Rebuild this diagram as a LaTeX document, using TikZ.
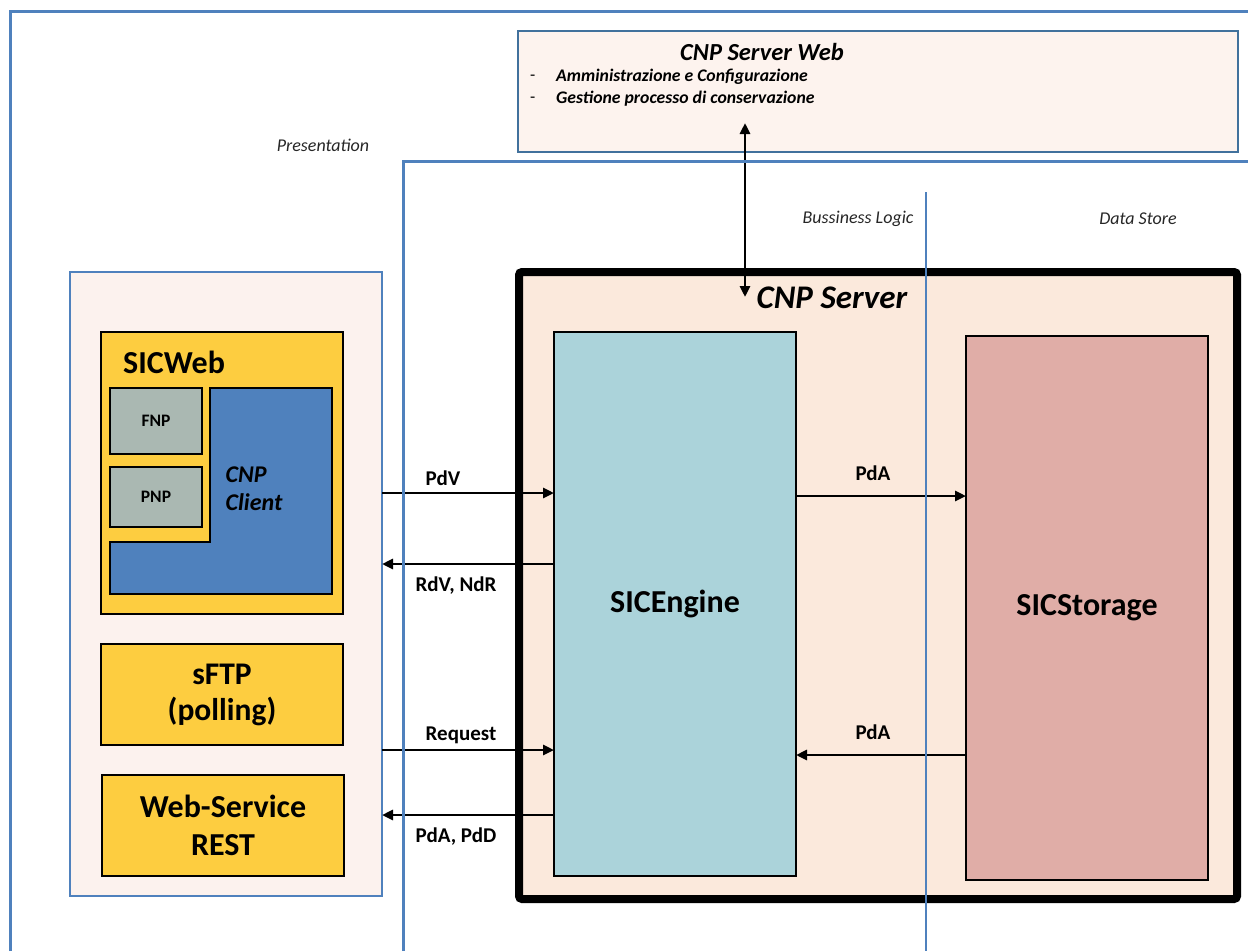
\documentclass[tikz,border=0pt]{standalone}
\usepackage{fontspec}
\setmainfont{Carlito}
\usetikzlibrary{arrows.meta}
\definecolor{frameblue}{HTML}{4F81BD}
\definecolor{topfill}{HTML}{FDF3EE}
\definecolor{topborder}{HTML}{41719C}
\definecolor{presfill}{HTML}{FCF2EE}
\definecolor{serverfill}{HTML}{FBE9DC}
\definecolor{enginefill}{HTML}{ABD3DA}
\definecolor{storagefill}{HTML}{E0ADA7}
\definecolor{yellowfill}{HTML}{FDCD40}
\definecolor{grayfill}{HTML}{AAB8B2}
\definecolor{clientfill}{HTML}{4F81BD}
\definecolor{labelgray}{HTML}{262626}
\tikzset{
  rbox/.style={draw, rectangle, inner sep=0pt, outer sep=0pt},
  blackbox/.style={rbox, draw=black, line width=2.2pt},
  conn/.style={line width=2.8pt, -{Triangle[length=11pt,width=10pt]}},
  dconn/.style={line width=2.8pt, {Triangle[length=11pt,width=10pt]}-{Triangle[length=11pt,width=10pt]}},
  lbl/.style={inner sep=0pt, font=\bfseries\fontsize{21}{24}\selectfont},
  layer/.style={inner sep=0pt, text=labelgray, font=\itshape\fontsize{18}{21}\selectfont},
  frame/.style={draw=frameblue, line width=3pt},
}
\begin{document}
\begin{tikzpicture}[x={(1pt,0)}, y={(0,-1pt)}]
\useasboundingbox (0,0) rectangle (1248,951);
% top box
\node[rbox, draw=topborder, line width=1.2pt, fill=topfill, minimum width=720pt, minimum height=121pt] (web) at (878,91.5) {};
\node[inner sep=0pt, font=\bfseries\itshape\fontsize{24.5}{28}\selectfont] (webtitle) at (762,52) {CNP Server Web};
\node[inner sep=0pt, anchor=west, font=\fontsize{17}{20}\selectfont] (d1) at (530,78) {-};
\node[inner sep=0pt, anchor=west, font=\fontsize{17}{20}\selectfont] (d2) at (530,100) {-};
\node[inner sep=0pt, anchor=west, font=\bfseries\itshape\fontsize{17.7}{20}\selectfont] (i1) at (556,77) {Amministrazione e Configurazione};
\node[inner sep=0pt, anchor=west, font=\bfseries\itshape\fontsize{17.7}{20}\selectfont] (i2) at (556,99) {Gestione processo di conservazione};
% layer labels
\node[layer] (pres) at (323,145) {Presentation};
\node[layer] (bl) at (858,219) {Bussiness Logic};
\node[layer] (ds) at (1138,219) {Data Store};
% presentation box
\node[rbox, draw=frameblue, line width=1.2pt, fill=presfill, minimum width=312pt, minimum height=624pt] (presbox) at (226,584) {};
% server
\node[rbox, draw=black, line width=8pt, rounded corners=3pt, fill=serverfill, minimum width=718pt, minimum height=627pt] (server) at (878,585.5) {};
\node[inner sep=0pt, font=\bfseries\itshape\fontsize{33}{38}\selectfont] (servertitle) at (832,298) {CNP Server};
\node[blackbox, fill=enginefill, minimum width=242pt, minimum height=544pt, font=\bfseries\fontsize{32}{36}\selectfont] (engine) at (675,604) {SICEngine};
\node[blackbox, fill=storagefill, minimum width=242pt, minimum height=544pt, font=\bfseries\fontsize{32}{36}\selectfont] (storage) at (1087,608) {SICStorage};
% SICWeb
\node[blackbox, fill=yellowfill, minimum width=242pt, minimum height=282pt] (sicweb) at (222,473) {};
\node[inner sep=0pt, anchor=west, font=\bfseries\fontsize{32}{36}\selectfont] (sicwebt) at (123,362) {SICWeb};
\node[blackbox, line width=2pt, fill=grayfill, minimum width=92pt, minimum height=66pt, font=\bfseries\fontsize{17.5}{20}\selectfont] (fnp) at (156,421) {FNP};
\node[blackbox, line width=2pt, fill=grayfill, minimum width=92pt, minimum height=60pt, font=\bfseries\fontsize{17.5}{20}\selectfont] (pnp) at (156,497) {PNP};
\draw[draw=black, line width=2.6pt, fill=clientfill] (210,388) -- (332,388) -- (332,594) -- (110,594) -- (110,542) -- (210,542) -- cycle;
\node[inner sep=0pt, align=left, font=\bfseries\itshape\fontsize{24}{28}\selectfont] (client) at (254,489) {CNP\\Client};
\node[blackbox, fill=yellowfill, minimum width=242pt, minimum height=101pt, align=center, font=\bfseries\fontsize{31.5}{36}\selectfont] (sftp) at (222,694.5) {sFTP\\(polling)};
\node[blackbox, fill=yellowfill, minimum width=242pt, minimum height=101pt, align=center, font=\bfseries\fontsize{32}{38}\selectfont] (ws) at (223,825.5) {Web-Service\\REST};
% connectors
\draw[conn] (presbox.east |- 0,493) -- (engine.west |- 0,493);
\draw[conn] (engine.west |- 0,564) -- (presbox.east |- 0,564);
\draw[conn] (presbox.east |- 0,750) -- (engine.west |- 0,750);
\draw[conn] (engine.west |- 0,815) -- (presbox.east |- 0,815);
\draw[conn] (engine.east |- 0,496) -- (storage.west |- 0,496);
\draw[conn] (storage.west |- 0,755) -- (engine.east |- 0,755);
\coordinate (va) at (745,123);
\coordinate (vb) at (745,297);
\draw[dconn] (va) -- (vb);
\node[lbl] (lpdv) at (443,478) {PdV};
\node[lbl] (lrdv) at (456,586) {RdV, NdR};
\node[lbl] (lreq) at (461,735) {Request};
\node[lbl] (lpdd) at (456,837) {PdA, PdD};
\node[lbl] (lpda1) at (873,473) {PdA};
\node[lbl] (lpda2) at (873,732) {PdA};
% frames
\draw[frame] (10,951) -- (10,11) -- (1248,11);
\draw[frame] (403,951) -- (403,161) -- (1248,161);
\draw[draw=frameblue, line width=1.3pt] (926,192) -- (926,951);
\end{tikzpicture}
\end{document}
